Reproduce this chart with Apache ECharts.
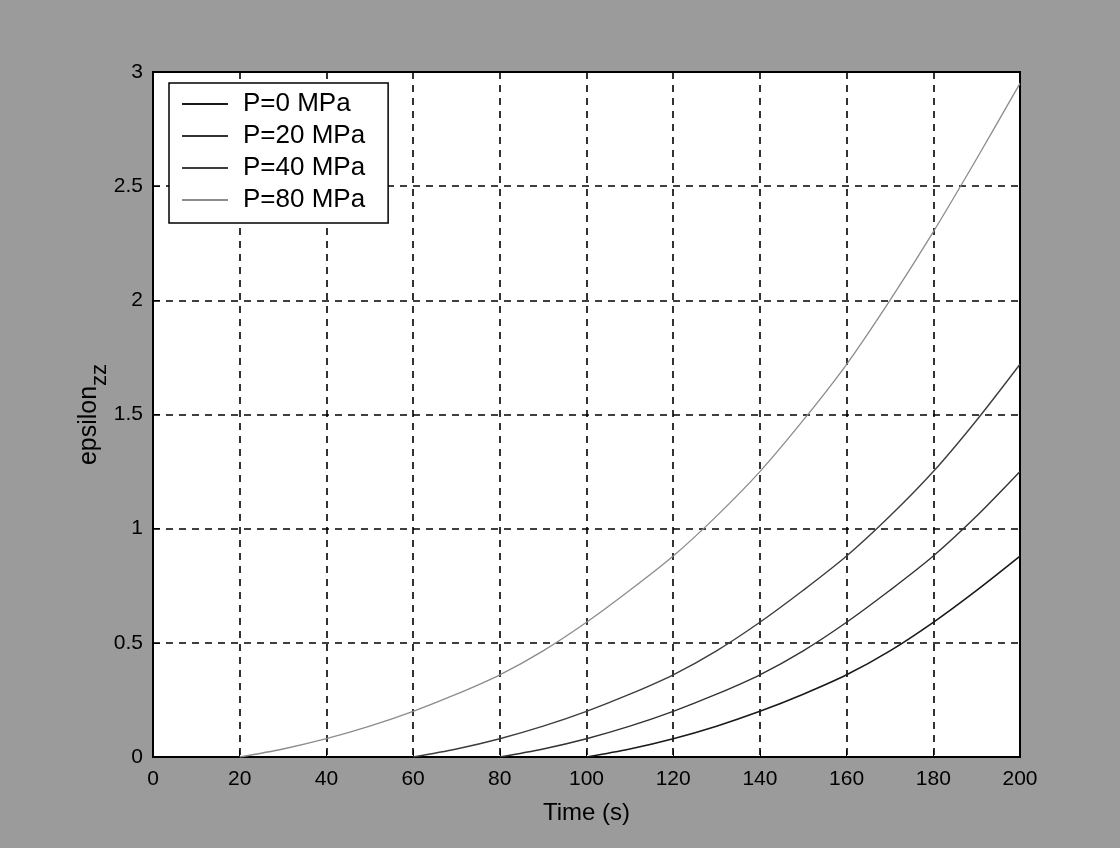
<!DOCTYPE html>
<html lang="en" style="height: 100%">
<head>
  <meta charset="utf-8">
  <title>epsilon_zz vs time</title>
</head>
<body style="height: 100%; margin: 0; background: #9b9b9b">
  <div id="container" style="width: 1120px; height: 848px"></div>
  <script src="https://cdn.jsdelivr.net/npm/echarts@6/dist/echarts.min.js"></script>
  <script>
    // values
    var legendNames = ['P=0 MPa', 'P=20 MPa', 'P=40 MPa', 'P=80 MPa'];

    var timeP0 = [100, 110, 120, 130, 140, 150, 160, 170, 180, 190, 200];
    var strainP0 = [0, 0.035, 0.08, 0.135, 0.2, 0.275, 0.36, 0.465, 0.59, 0.73, 0.88];

    var timeP20 = [80, 90, 100, 110, 120, 130, 140, 150, 160, 170, 180, 190, 200];
    var strainP20 = [0, 0.035, 0.08, 0.135, 0.2, 0.275, 0.36, 0.465, 0.59, 0.73, 0.88, 1.055, 1.25];

    var timeP40 = [60, 70, 80, 90, 100, 110, 120, 130, 140, 150, 160, 170, 180, 190, 200];
    var strainP40 = [0, 0.035, 0.08, 0.135, 0.2, 0.275, 0.36, 0.465, 0.59, 0.73, 0.88, 1.055, 1.25, 1.475, 1.72];

    var timeP80 = [20, 30, 40, 50, 60, 70, 80, 90, 100, 110, 120, 130, 140, 150, 160, 170, 180, 190, 200];
    var strainP80 = [0, 0.035, 0.08, 0.135, 0.2, 0.275, 0.36, 0.465, 0.59, 0.73, 0.88, 1.055, 1.25, 1.475, 1.72, 2.0, 2.3, 2.62, 2.95];

    var lineColors = ['#1a1a1a', '#333333', '#3d3d3d', '#8c8c8c'];

    function pairs(t, v) {
      return t.map(function (x, i) { return [x, v[i]]; });
    }

    var font = '"Liberation Sans", Arial, sans-serif';
    var dom = document.getElementById('container');
    var myChart = echarts.init(dom, null, { renderer: 'canvas' });

    var gridLine = { show: true, lineStyle: { color: '#000', width: 1.6, type: [7, 6] } };

    function curve(i, t, v, w) {
      return {
        name: legendNames[i], type: 'line', symbol: 'none', smooth: 0.3,
        lineStyle: { color: lineColors[i], width: w },
        itemStyle: { color: lineColors[i] },
        data: pairs(t, v)
      };
    }

    var option = {
      backgroundColor: '#9b9b9b',
      animation: false,
      grid: {
        left: 153, right: 100, top: 72, bottom: 91,
        show: true, backgroundColor: '#fff', borderColor: '#000', borderWidth: 2
      },
      legend: {
        orient: 'vertical',
        left: 169, top: 83,
        data: legendNames,
        icon: 'rect',
        backgroundColor: '#fff',
        borderColor: '#000', borderWidth: 1.5,
        padding: [8, 23, 10, 13],
        itemWidth: 46, itemHeight: 2, itemGap: 6,
        textStyle: { fontFamily: font, fontSize: 26, color: '#000', padding: [0, 0, 0, 10] }
      },
      xAxis: {
        type: 'value',
        min: 0, max: 200, interval: 20,
        name: 'Time (s)',
        nameLocation: 'middle',
        nameGap: 44,
        nameMoveOverlap: false,
        nameTextStyle: { fontFamily: font, fontSize: 24, color: '#000' },
        axisLine: { lineStyle: { color: '#000', width: 2 } },
        axisTick: { inside: true, length: 7, lineStyle: { color: '#000' } },
        axisLabel: { fontFamily: font, fontSize: 21, color: '#000', margin: 12 },
        splitLine: gridLine
      },
      yAxis: {
        type: 'value',
        min: 0, max: 3, interval: 0.5,
        name: '{a|epsilon}{b|zz}',
        nameLocation: 'middle',
        nameRotate: 90,
        nameGap: 42,
        nameMoveOverlap: false,
        nameTextStyle: {
          color: '#000',
          rich: {
            a: { fontFamily: font, fontSize: 25, color: '#000', lineHeight: 24, verticalAlign: 'top' },
            b: { fontFamily: font, fontSize: 22, color: '#000', lineHeight: 34, verticalAlign: 'bottom' }
          }
        },
        axisLine: { show: true, lineStyle: { color: '#000', width: 2 } },
        axisTick: { show: true, inside: true, length: 7, lineStyle: { color: '#000' } },
        axisLabel: { fontFamily: font, fontSize: 21, color: '#000', margin: 10 },
        splitLine: gridLine
      },
      series: [
        curve(0, timeP0, strainP0, 1.6),
        curve(1, timeP20, strainP20, 1.4),
        curve(2, timeP40, strainP40, 1.4),
        curve(3, timeP80, strainP80, 1.3)
      ]
    };
    myChart.setOption(option);
    window.addEventListener('resize', myChart.resize);
  </script>
</body>
</html>
